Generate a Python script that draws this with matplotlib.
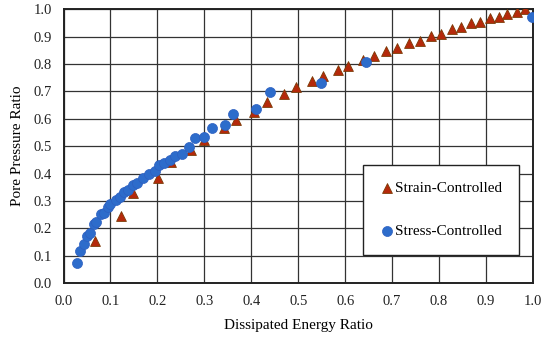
import matplotlib
matplotlib.use("Agg")
import matplotlib.pyplot as plt

plt.rcParams['font.family'] = ['Liberation Serif', 'DejaVu Serif']

strain_x = [0.066, 0.122, 0.149, 0.201, 0.229, 0.272, 0.300, 0.341, 0.367, 0.405,
            0.433, 0.469, 0.495, 0.530, 0.553, 0.585, 0.607, 0.638, 0.661, 0.688,
            0.711, 0.737, 0.759, 0.783, 0.804, 0.827, 0.847, 0.868, 0.887, 0.909,
            0.928, 0.945, 0.965, 0.983]
strain_y = [0.155, 0.245, 0.327, 0.382, 0.443, 0.485, 0.522, 0.567, 0.597, 0.625,
            0.661, 0.689, 0.714, 0.736, 0.757, 0.777, 0.792, 0.814, 0.828, 0.848,
            0.859, 0.875, 0.884, 0.903, 0.911, 0.926, 0.936, 0.950, 0.954, 0.968,
            0.972, 0.984, 0.988, 0.999]

stress_x = [0.028, 0.035, 0.044, 0.050, 0.056, 0.064, 0.070, 0.079, 0.086, 0.095,
            0.100, 0.111, 0.120, 0.129, 0.137, 0.148, 0.156, 0.170, 0.183, 0.194,
            0.204, 0.213, 0.227, 0.238, 0.252, 0.268, 0.280, 0.300, 0.316, 0.344,
            0.362, 0.411, 0.440, 0.549, 0.645, 0.997]
stress_y = [0.074, 0.118, 0.141, 0.172, 0.181, 0.215, 0.224, 0.251, 0.257, 0.278,
            0.287, 0.303, 0.315, 0.333, 0.339, 0.358, 0.364, 0.382, 0.400, 0.410,
            0.431, 0.437, 0.451, 0.463, 0.471, 0.497, 0.528, 0.534, 0.565, 0.577,
            0.617, 0.634, 0.696, 0.729, 0.808, 0.972]

ticks = [0.0, 0.1, 0.2, 0.3, 0.4, 0.5, 0.6, 0.7, 0.8, 0.9, 1.0]
tick_labels = ["0.0", "0.1", "0.2", "0.3", "0.4", "0.5", "0.6", "0.7", "0.8", "0.9", "1.0"]

fig = plt.figure(figsize=(5.5, 3.39), dpi=100)
ax = fig.add_axes([0.1155, 0.165, 0.8535, 0.808])

ax.scatter(strain_x, strain_y, marker='^', s=50, facecolor='#B5290B',
           edgecolor='#7A3A05', linewidth=0.6, zorder=3, label='Strain-Controlled')
ax.scatter(stress_x, stress_y, marker='o', s=52, facecolor='#2D6CCB',
           edgecolor='#2D5FC0', linewidth=0.5, zorder=4, label='Stress-Controlled')

ax.set_xlim(0, 1)
ax.set_ylim(0, 1)
ax.set_xticks(ticks)
ax.set_xticklabels(tick_labels)
ax.set_yticks(ticks)
ax.set_yticklabels(tick_labels)
ax.tick_params(axis='x', length=0, labelsize=10.5, pad=8.5, colors='#222222')
ax.tick_params(axis='y', length=0, labelsize=10.5, pad=8.5, colors='#222222')
ax.grid(True, color='#333333', linewidth=0.9)
ax.set_axisbelow(True)
for s in ax.spines.values():
    s.set_linewidth(1.4)
    s.set_color('#222222')

ax.set_xlabel('Dissipated Energy Ratio', fontsize=11, labelpad=8)
ax.set_ylabel('Pore Pressure Ratio', fontsize=11, labelpad=7)

leg = ax.legend(loc='upper right', bbox_to_anchor=(0.97, 0.432), fontsize=11,
                frameon=True, fancybox=False, edgecolor='#222222', framealpha=1,
                labelspacing=1.9, handletextpad=0.0, handlelength=1.0,
                borderpad=1.1, borderaxespad=0)
leg.get_frame().set_linewidth(1.0)

fig.savefig('out.png', dpi=100)
